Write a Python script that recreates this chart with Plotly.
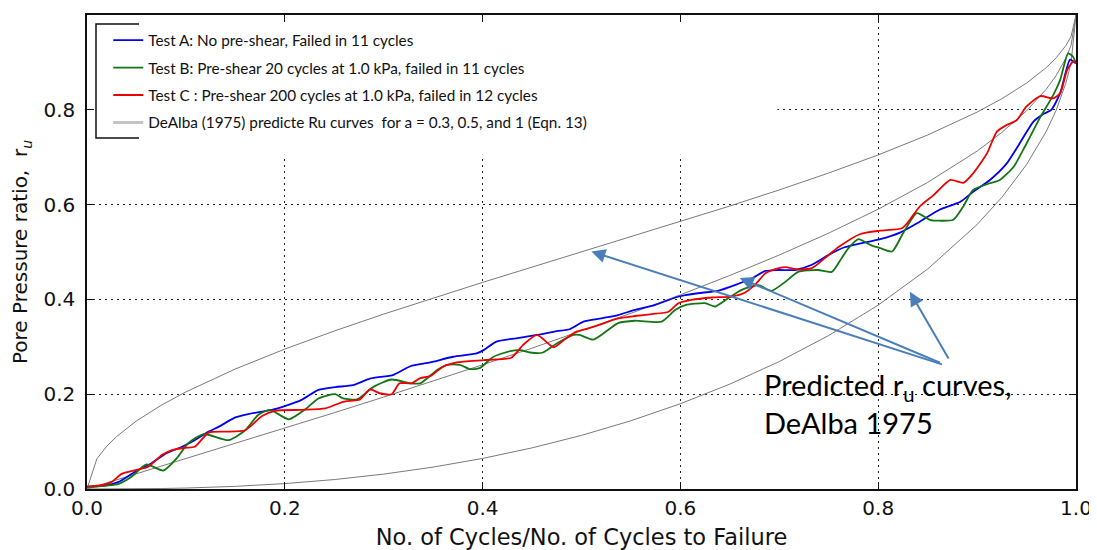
import plotly.graph_objects as go

# ---------------- data ----------------
test_a_x = [0.0, 0.018, 0.032, 0.049, 0.065, 0.079, 0.096, 0.109, 0.123, 0.133, 0.150, 0.163, 0.187, 0.200,
            0.217, 0.234, 0.251, 0.269, 0.286, 0.310, 0.327, 0.347, 0.370, 0.394, 0.401, 0.414, 0.434, 0.455,
            0.475, 0.488, 0.502, 0.520, 0.537, 0.554, 0.574, 0.595, 0.605, 0.622, 0.638, 0.655, 0.672, 0.686,
            0.699, 0.716, 0.733, 0.750, 0.766, 0.782, 0.802, 0.822, 0.842, 0.862, 0.883, 0.896, 0.913, 0.930,
            0.943, 0.957, 0.967, 0.975, 0.984, 0.994, 1.0]
test_a_y = [0.005, 0.007, 0.015, 0.037, 0.054, 0.074, 0.089, 0.103, 0.121, 0.131, 0.151, 0.158, 0.167, 0.175,
            0.188, 0.209, 0.215, 0.219, 0.233, 0.241, 0.259, 0.267, 0.279, 0.286, 0.293, 0.311, 0.318, 0.325,
            0.333, 0.337, 0.353, 0.360, 0.367, 0.378, 0.388, 0.404, 0.409, 0.414, 0.418, 0.430, 0.444, 0.460,
            0.462, 0.462, 0.473, 0.494, 0.510, 0.518, 0.527, 0.541, 0.564, 0.589, 0.606, 0.627, 0.652, 0.687,
            0.729, 0.775, 0.791, 0.800, 0.835, 0.906, 0.898]

test_b_x = [0.0, 0.032, 0.045, 0.060, 0.077, 0.092, 0.102, 0.118, 0.143, 0.160, 0.173, 0.185, 0.204, 0.220,
            0.234, 0.251, 0.259, 0.273, 0.290, 0.308, 0.327, 0.337, 0.354, 0.364, 0.377, 0.387, 0.397, 0.411,
            0.428, 0.438, 0.448, 0.461, 0.475, 0.492, 0.498, 0.512, 0.537, 0.554, 0.581, 0.595, 0.605, 0.625,
            0.635, 0.648, 0.662, 0.679, 0.692, 0.706, 0.719, 0.739, 0.753, 0.763, 0.770, 0.780, 0.792, 0.802,
            0.814, 0.825, 0.839, 0.852, 0.862, 0.876, 0.886, 0.896, 0.913, 0.923, 0.937, 0.950, 0.964, 0.977,
            0.984, 0.992, 0.997, 1.0]
test_b_y = [0.004, 0.011, 0.026, 0.052, 0.039, 0.068, 0.096, 0.116, 0.103, 0.124, 0.156, 0.167, 0.147, 0.167,
            0.191, 0.200, 0.191, 0.189, 0.216, 0.231, 0.223, 0.223, 0.251, 0.262, 0.262, 0.253, 0.255, 0.279,
            0.291, 0.293, 0.288, 0.288, 0.307, 0.325, 0.325, 0.315, 0.350, 0.355, 0.353, 0.378, 0.388, 0.392,
            0.385, 0.402, 0.420, 0.430, 0.418, 0.437, 0.458, 0.462, 0.458, 0.487, 0.508, 0.527, 0.515, 0.508,
            0.501, 0.539, 0.582, 0.568, 0.566, 0.568, 0.596, 0.631, 0.645, 0.652, 0.680, 0.729, 0.785, 0.831,
            0.863, 0.919, 0.912, 0.898]

test_c_x = [0.0, 0.015, 0.025, 0.035, 0.049, 0.062, 0.076, 0.086, 0.099, 0.109, 0.123, 0.140, 0.160, 0.177,
            0.190, 0.217, 0.241, 0.259, 0.276, 0.286, 0.296, 0.308, 0.316, 0.328, 0.337, 0.347, 0.360, 0.374,
            0.401, 0.429, 0.441, 0.455, 0.472, 0.482, 0.495, 0.507, 0.520, 0.537, 0.554, 0.571, 0.588, 0.598,
            0.611, 0.632, 0.652, 0.665, 0.675, 0.686, 0.696, 0.706, 0.719, 0.733, 0.746, 0.761, 0.782, 0.802,
            0.824, 0.832, 0.842, 0.856, 0.873, 0.886, 0.896, 0.910, 0.920, 0.930, 0.940, 0.950, 0.964, 0.977,
            0.984, 0.991, 0.997, 1.0]
test_c_y = [0.005, 0.008, 0.015, 0.032, 0.040, 0.047, 0.072, 0.082, 0.087, 0.089, 0.119, 0.121, 0.124, 0.154,
            0.165, 0.167, 0.170, 0.184, 0.189, 0.210, 0.202, 0.200, 0.223, 0.223, 0.234, 0.238, 0.258, 0.267,
            0.272, 0.277, 0.304, 0.325, 0.299, 0.314, 0.332, 0.339, 0.348, 0.360, 0.365, 0.369, 0.374, 0.392,
            0.399, 0.404, 0.406, 0.414, 0.430, 0.455, 0.464, 0.468, 0.463, 0.466, 0.487, 0.512, 0.538, 0.545,
            0.550, 0.568, 0.596, 0.620, 0.652, 0.646, 0.666, 0.708, 0.754, 0.768, 0.778, 0.807, 0.829, 0.824,
            0.835, 0.884, 0.901, 0.898]

# DeAlba (1975) predicted curves
dealba_x = [0.0, 0.01, 0.02, 0.03, 0.05, 0.075, 0.1, 0.15, 0.2, 0.25, 0.3, 0.35, 0.4, 0.45, 0.5, 0.55, 0.6,
            0.65, 0.7, 0.75, 0.8, 0.85, 0.9, 0.925, 0.95, 0.97, 0.98, 0.99, 0.995, 1.0]
dealba_upper = [0.0, 0.0638, 0.0903, 0.1108, 0.1436, 0.1766, 0.2048, 0.2532, 0.2952, 0.3333, 0.3690, 0.4030,
                0.4359, 0.4681, 0.5, 0.5319, 0.5641, 0.5970, 0.6310, 0.6667, 0.7048, 0.7468, 0.7952, 0.8234,
                0.8564, 0.8892, 0.9097, 0.9362, 0.9549, 1.0]
dealba_middle = [0.0, 0.0064, 0.0127, 0.0191, 0.0318, 0.0478, 0.0638, 0.0959, 0.1282, 0.1609, 0.1940, 0.2276,
                 0.2620, 0.2972, 0.3333, 0.3707, 0.4097, 0.4505, 0.4936, 0.5399, 0.5903, 0.6468, 0.7129, 0.7523,
                 0.7978, 0.8437, 0.8725, 0.9100, 0.9362, 1.0]
dealba_lower = [0.0, 0.0, 0.00004, 0.0001, 0.0004, 0.0010, 0.0020, 0.0056, 0.0114, 0.0199, 0.0314, 0.0462,
                0.0645, 0.0868, 0.1131, 0.1440, 0.1799, 0.2213, 0.2689, 0.3239, 0.3880, 0.4641, 0.5579, 0.6153,
                0.6844, 0.7547, 0.7993, 0.8579, 0.8994, 1.0]

tick_vals = [0.0, 0.2, 0.4, 0.6, 0.8, 1.0]
tick_text = ["0.0", "0.2", "0.4", "0.6", "0.8", "1.0"]

legend_a = "Test A: No pre-shear, Failed in 11 cycles"
legend_b = "Test B: Pre-shear 20 cycles at 1.0 kPa, failed in 11 cycles"
legend_c = "Test C : Pre-shear 200 cycles at 1.0 kPa, failed in 12 cycles"
legend_d = "DeAlba (1975) predicte Ru curves  for a = 0.3, 0.5, and 1 (Eqn. 13)"

# ---------------- figure ----------------
GREY = "#7a7a7a"
fig = go.Figure()
for yy in (dealba_upper, dealba_middle, dealba_lower):
    fig.add_trace(go.Scatter(x=dealba_x, y=yy, mode="lines", line=dict(color=GREY, width=1),
                             showlegend=False, hoverinfo="skip"))

fig.add_trace(go.Scatter(x=test_a_x, y=test_a_y, mode="lines", name=legend_a, legendgroup="a",
                         line=dict(color="#0000ee", width=1.8, shape="spline", smoothing=0.6)))
fig.add_trace(go.Scatter(x=test_b_x, y=test_b_y, mode="lines", name=legend_b, legendgroup="b",
                         line=dict(color="#137513", width=1.8, shape="spline", smoothing=0.6)))
fig.add_trace(go.Scatter(x=test_c_x, y=test_c_y, mode="lines", name=legend_c, legendgroup="c",
                         line=dict(color="#ee0000", width=1.8, shape="spline", smoothing=0.6)))
# legend entry for the grey curves
fig.add_trace(go.Scatter(x=[None], y=[None], mode="lines", name=legend_d, legendgroup="d",
                         line=dict(color="#c4c4c4", width=3)))

axis_common = dict(range=[0, 1], tickvals=tick_vals, ticktext=tick_text, showline=True, mirror="ticks",
                   linecolor="#111", linewidth=1.5, ticks="inside", ticklen=7, tickwidth=1, tickcolor="#111",
                   showgrid=True, gridcolor="#222", gridwidth=1, griddash="2px,4px", zeroline=False,
                   tickfont=dict(family="DejaVu Sans", size=20, color="#111"), automargin=False)

# page body adds an 8px offset, so the figure is 8px smaller and the margins shifted
fig.update_layout(
    width=1089, height=542,
    margin=dict(l=79, r=21, t=7, b=61),
    paper_bgcolor="white", plot_bgcolor="white",
    xaxis=dict(axis_common, title=dict(text="No. of Cycles/No. of Cycles to Failure",
                                       font=dict(family="DejaVu Sans", size=22.5, color="#111"), standoff=11)),
    yaxis=dict(axis_common, ticklabelstandoff=6,
               title=dict(text="Pore Pressure ratio,  r<sub><i>u</i></sub>",
                          font=dict(family="DejaVu Sans", size=20, color="#111"), standoff=10)),
    legend=dict(x=0.0215, y=0.9815, xanchor="left", yanchor="top", bgcolor="rgba(0,0,0,0)",
                borderwidth=0, itemwidth=30, tracegroupgap=4.5, traceorder="grouped",
                font=dict(family="Lato", size=15.3, color="#111")),
    showlegend=True,
)

# white mask hiding the grid behind the legend block (drawn between grid and traces)
fig.add_shape(type="rect", xref="x", yref="y", x0=0.0, x1=0.698, y0=0.705, y1=1.0,
              fillcolor="white", line=dict(width=0), layer="between")
# partial legend frame
fig.add_shape(type="path", xref="paper", yref="paper",
              path="M 0.0526,0.981 L 0.0091,0.981 L 0.0091,0.7405 L 0.0526,0.7405",
              line=dict(color="#111", width=1.5), layer="above")

# annotation text and arrows
fig.add_annotation(x=0.683, y=0.180, xref="x", yref="y", xanchor="left", yanchor="middle", align="left",
                   text="Predicted r<sub>u</sub> curves,<br>DeAlba 1975", showarrow=False,
                   font=dict(family="Lato", size=29, color="black"))
ARROW = "#4a7ebb"
for hx, hy, tx, ty in [(0.510, 0.501, 0.866, 0.262), (0.660, 0.445, 0.864, 0.265), (0.832, 0.416, 0.872, 0.272)]:
    fig.add_annotation(x=hx, y=hy, ax=tx, ay=ty, xref="x", yref="y", axref="x", ayref="y", text="",
                       showarrow=True, arrowhead=2, arrowsize=1.4, arrowwidth=2, arrowcolor=ARROW, standoff=0)

fig.write_html("out.html")
